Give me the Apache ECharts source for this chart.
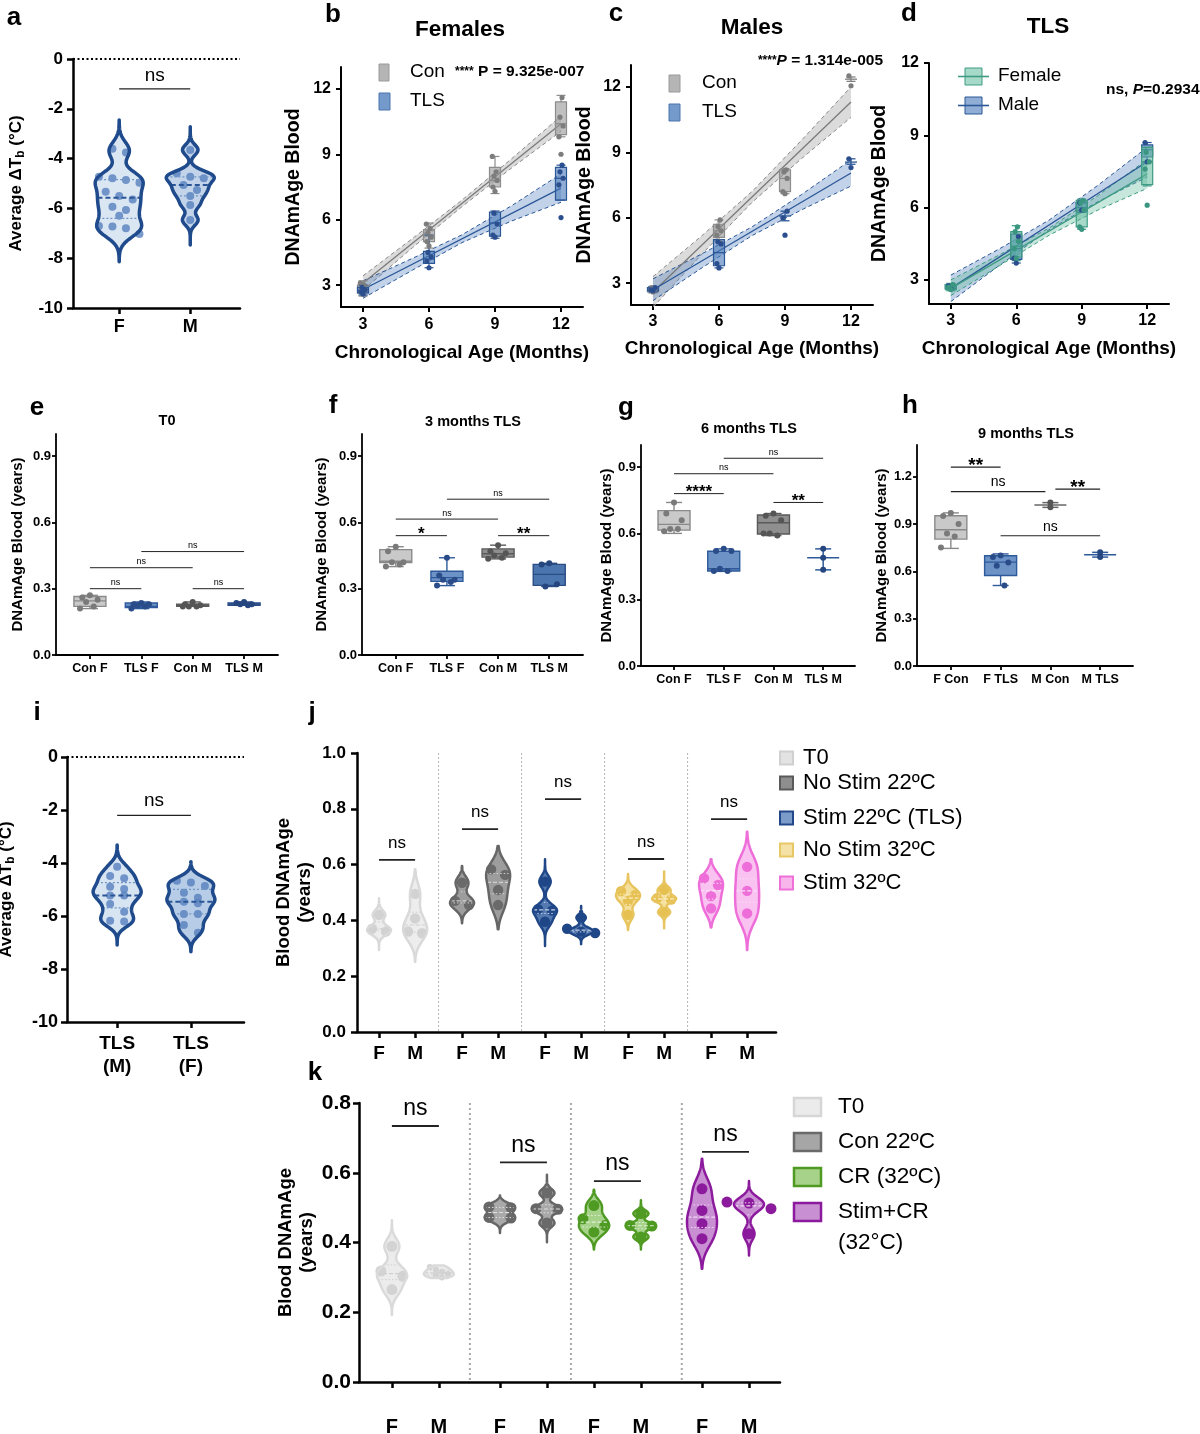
<!DOCTYPE html>
<html>
<head>
<meta charset="utf-8">
<script src="https://cdn.jsdelivr.net/npm/echarts@6/dist/echarts.min.js"></script>
<style>
  html, body { margin: 0; padding: 0; background: #fff; }
  #main { width: 1200px; height: 1434px; }
</style>
</head>
<body>
<div id="main"></div>
<script>
// ---------- data ----------
// a: average body temperature change, per sex
var aCats = ['F', 'M']
var aTicks = [0, -2, -4, -6, -8, -10]
var aF = [-3.6, -3.76, -4.73, -4.79, -4.86, -4.97, -5.33, -5.5, -5.64, -5.93, -6.06, -6.3, -6.71, -6.73, -6.8, -7.03]
var aM = [-3.65, -4.59, -4.73, -4.79, -5.06, -5.26, -5.5, -5.86, -6.47]
var aExtF = [-8.14, -2.45]
var aExtM = [-7.47, -2.72]
var aSig = [[1, 2, -1.2]]

// b-d: DNAmAge vs chronological age
var months = [3, 6, 9, 12]
var ageTicks = [3, 6, 9, 12]
var fitX = [3, 5.25, 7.5, 9.75, 12]
var lineX = [3, 12]

var bConBox = [[2.5, 2.65, 2.8, 3.0, 3.2], [4.7, 5.0, 5.25, 5.55, 5.85], [7.2, 7.5, 7.8, 8.4, 8.9], [9.8, 9.9, 10.4, 11.4, 11.7]]
var bConPts = [[2.6, 2.7, 2.8, 2.9, 3.0, 3.1], [4.8, 5.0, 5.2, 5.4, 5.6, 5.8], [7.3, 7.5, 7.8, 8.0, 8.2, 8.9], [9.0, 9.8, 10.3, 10.7, 11.6]]
var bTlsBox = [[2.55, 2.65, 2.75, 2.9, 3.0], [3.8, 4.0, 4.2, 4.55, 5.3], [5.15, 5.25, 5.85, 6.35, 6.4], [6.9, 6.9, 7.9, 8.4, 8.5]]
var bTlsPts = [[2.6, 2.7, 2.8, 2.9], [3.8, 4.1, 4.3, 4.5], [5.2, 5.3, 5.8, 6.3], [6.1, 7.6, 7.9, 8.2, 8.5]]
var bConLine = [3.1, 10.4]
var bConLo = [2.77, 4.72, 6.60, 8.37, 10.05]
var bConHi = [3.43, 5.14, 6.90, 8.79, 10.75]
var bTlsLine = [2.8, 7.45]
var bTlsLo = [2.4, 3.69, 4.95, 5.94, 6.8]
var bTlsHi = [3.2, 4.23, 5.31, 6.64, 8.1]

var cConBoxX = [3, 6, 9]
var cConBox = [[2.55, 2.6, 2.7, 2.8, 2.85], [4.9, 5.1, 5.4, 5.7, 5.9], [7.1, 7.2, 7.8, 8.2, 8.25]]
var cConBarX = [12]
var cConBar = [[12.25, 12.35, 12.45]]
var cConPts = [[2.6, 2.7, 2.75, 2.8], [4.9, 5.2, 5.4, 5.6, 5.9], [7.1, 7.2, 7.8, 8.1, 8.2], [12.05, 12.5]]
var cTlsBoxX = [3, 6]
var cTlsBox = [[2.6, 2.65, 2.7, 2.8, 2.85], [3.7, 3.8, 4.4, 5.0, 5.0]]
var cTlsBarX = [9, 12]
var cTlsBar = [[5.86, 6.08, 6.3], [8.45, 8.55, 8.7]]
var cTlsPts = [[2.65, 2.7, 2.8], [3.7, 3.9, 4.8, 4.9], [5.2, 6.0, 6.3], [8.3, 8.7]]
var cConLine = [2.6, 11.3]
var cConLo = [1.9, 4.36, 6.7, 8.71, 10.6]
var cConHi = [3.3, 5.2, 7.2, 9.55, 12.0]
var cTlsLine = [2.7, 8.05]
var cTlsLo = [2.2, 3.72, 5.18, 6.36, 7.45]
var cTlsHi = [3.2, 4.36, 5.58, 7.06, 8.65]

var dFemBox = [[2.55, 2.6, 2.7, 2.8, 2.85], [3.8, 3.95, 4.4, 5.0, 5.25], [5.1, 5.2, 5.9, 6.3, 6.35], [6.9, 6.95, 7.9, 8.5, 8.5]]
var dFemPts = [[2.6, 2.7, 2.8], [3.9, 4.3, 4.6, 5.0, 5.2], [5.1, 5.2, 5.9, 6.2, 6.3], [6.1, 7.6, 7.9, 8.3]]
var dMalBox = [[2.6, 2.65, 2.7, 2.8, 2.85], [3.7, 3.85, 4.3, 4.9, 5.0], [5.8, 5.85, 6.0, 6.2, 6.3], [7.9, 8.1, 8.4, 8.6, 8.7]]
var dMalPts = [[2.65, 2.75], [3.7, 3.9, 4.8], [5.9, 6.2], [7.9, 8.7]]
var dFemLine = [2.65, 7.4]
var dFemLo = [2.35, 3.6, 4.85, 5.9, 6.8]
var dFemHi = [3.0, 4.05, 5.15, 6.5, 8.0]
var dMalLine = [2.65, 7.9]
var dMalLo = [2.1, 3.62, 5.08, 6.25, 7.27]
var dMalHi = [3.2, 4.3, 5.48, 6.93, 8.5]

// e-h: DNAmAge per group at each timepoint (box = min, q1, median, q3, max)
var grpCats = ['Con F', 'TLS F', 'Con M', 'TLS M']
var hCats = ['F Con', 'F TLS', 'M Con', 'M TLS']
var grpX = [1, 2, 3, 4]
var yTicks09 = [0, 0.3, 0.6, 0.9]
var yTicks12 = [0, 0.3, 0.6, 0.9, 1.2]

var eBox = [[0.21, 0.22, 0.245, 0.265, 0.27], [0.21, 0.215, 0.22, 0.235, 0.24], [0.22, 0.22, 0.225, 0.23, 0.24], [0.225, 0.225, 0.23, 0.235, 0.24]]
var ePts = [[0.27, 0.26, 0.25, 0.24, 0.22, 0.21], [0.235, 0.23, 0.23, 0.225, 0.22, 0.21], [0.24, 0.23, 0.225, 0.22, 0.22, 0.22], [0.24, 0.235, 0.23, 0.23, 0.225]]
var eSig = [[1, 2, 0.30], [3, 4, 0.30], [1, 3, 0.395], [2, 4, 0.468]]
var eSigText = ['ns', 'ns', 'ns', 'ns']

var fBox = [[0.40, 0.418, 0.424, 0.477, 0.49], [0.314, 0.333, 0.35, 0.379, 0.44], [0.435, 0.443, 0.458, 0.48, 0.497], [0.31, 0.315, 0.365, 0.41, 0.415]]
var fPts = [[0.49, 0.47, 0.42, 0.42, 0.41, 0.40], [0.44, 0.36, 0.34, 0.34, 0.33, 0.314], [0.497, 0.47, 0.46, 0.45, 0.44, 0.435], [0.415, 0.41, 0.32, 0.31]]
var fSig = [[1, 2, 0.54], [3, 4, 0.54], [1, 3, 0.615], [2, 4, 0.705]]
var fSigText = ['*', '**', 'ns', 'ns']

var gBoxX = [1, 2, 3]
var gBox = [[0.60, 0.615, 0.641, 0.703, 0.74], [0.428, 0.43, 0.44, 0.519, 0.53], [0.59, 0.597, 0.648, 0.683, 0.69]]
var gBarX = [4]
var gBar = [[0.435, 0.49, 0.53]]
var gPts = [[0.74, 0.69, 0.66, 0.62, 0.62, 0.61], [0.53, 0.52, 0.52, 0.44, 0.43, 0.43], [0.69, 0.68, 0.66, 0.60, 0.59, 0.60], [0.53, 0.49, 0.435]]
var gSig = [[1, 2, 0.78], [3, 4, 0.74], [1, 3, 0.87], [2, 4, 0.94]]
var gSigText = ['****', '**', 'ns', 'ns']

var hBoxX = [1, 2]
var hBox = [[0.745, 0.804, 0.863, 0.952, 0.97], [0.51, 0.573, 0.658, 0.698, 0.71]]
var hBarX = [3, 4]
var hBar = [[1.005, 1.02, 1.035], [0.69, 0.705, 0.72]]
var hPts = [[0.97, 0.95, 0.90, 0.84, 0.82, 0.75], [0.70, 0.69, 0.655, 0.635, 0.51], [1.035, 1.005], [0.72, 0.69]]
var hSig = [[1, 2, 1.26], [1, 2.9, 1.105], [3.1, 4, 1.12], [2, 4, 0.825]]
var hSigText = ['**', 'ns', '**', 'ns']

// i: average body temperature change, TLS animals
var iCats = ['TLS\n(M)', 'TLS\n(F)']
var iM = [-4.14, -4.49, -4.58, -4.9, -4.98, -5.23, -5.23, -5.55, -5.84, -6.18, -6.21]
var iF = [-4.67, -4.74, -4.87, -5.12, -5.31, -5.46, -5.52, -5.92, -5.92, -6.34, -6.63]
var iExtM = [-7.09, -3.32]
var iExtF = [-7.35, -3.95]
var iSig = [[1, 2, -2.2]]

// j: blood DNAmAge, 5 conditions x sex
var jGroups = ['T0', 'No Stim 22ºC', 'Stim 22ºC (TLS)', 'No Stim 32ºC', 'Stim 32ºC']
var jF = [[0.42, 0.37, 0.36], [0.535, 0.47, 0.455], [0.539, 0.44, 0.435, 0.395], [0.505, 0.49, 0.47, 0.42], [0.551, 0.527, 0.487, 0.443]]
var jM = [[0.495, 0.407, 0.36, 0.354], [0.583, 0.563, 0.509, 0.455], [0.41, 0.37, 0.36, 0.355], [0.51, 0.48, 0.475, 0.43], [0.592, 0.506, 0.425]]
var jExtF = [[0.294, 0.479], [0.39, 0.595], [0.308, 0.619], [0.366, 0.566], [0.375, 0.619]]
var jExtM = [[0.252, 0.583], [0.368, 0.667], [0.315, 0.452], [0.372, 0.575], [0.294, 0.718]]
var jSigY = [0.617, 0.727, 0.835, 0.62, 0.763]
var jTicks = [0, 0.2, 0.4, 0.6, 0.8, 1.0]

// k: blood DNAmAge, 4 conditions x sex
var kGroups = ['T0', 'Con 22ºC', 'CR (32ºC)', 'Stim+CR']
var kF = [[0.389, 0.318, 0.303, 0.265], [0.502, 0.50, 0.472, 0.47], [0.506, 0.468, 0.449, 0.43], [0.554, 0.492, 0.454, 0.411]]
var kM = [[0.33, 0.322, 0.316, 0.31, 0.306, 0.30], [0.542, 0.497, 0.495, 0.456], [0.483, 0.449, 0.447, 0.416], [0.516, 0.513, 0.497, 0.425]]
var kExtF = [[0.192, 0.464], [0.427, 0.535], [0.38, 0.551], [0.325, 0.64]]
var kExtM = [[0.298, 0.334], [0.401, 0.594], [0.38, 0.521], [0.363, 0.576]]
var kSigY = [0.734, 0.63, 0.576, 0.66]
var kTicks = [0, 0.2, 0.4, 0.6, 0.8]

// ---------- layout ----------
var FONT = "'Liberation Sans', Arial, Helvetica, sans-serif"
var grids = [
  { left: 73, top: 59, width: 167, height: 249 },    // a
  { left: 341, top: 67, width: 242, height: 240 },   // b
  { left: 631, top: 65, width: 242, height: 240 },   // c
  { left: 929, top: 63, width: 240, height: 241 },   // d
  { left: 56, top: 434, width: 222, height: 221 },   // e
  { left: 362, top: 434, width: 221, height: 221 },  // f
  { left: 641, top: 445, width: 214, height: 221 },  // g
  { left: 917, top: 445, width: 216, height: 221 },  // h
  { left: 67, top: 757, width: 177, height: 265 },   // i
  { left: 357, top: 753, width: 419, height: 279 },  // j
  { left: 359, top: 1103, width: 421, height: 279 }  // k
]
var jPosF = [1, 3.3, 5.6, 7.9, 10.2]
var jPosM = [2, 4.3, 6.6, 8.9, 11.2]
var jSep = [2.65, 4.95, 7.25, 9.55]
var kPosF = [1, 3.3, 5.3, 7.6]
var kPosM = [2, 4.3, 6.3, 8.6]
var kSep = [2.66, 4.81, 7.17]
var JIT = [0, -0.7, 0.7, -0.35, 0.35, -0.9, 0.9, 0.15]

// ---------- helpers ----------
function quant (s, q) {
  var pos = (s.length - 1) * q
  var lo = Math.floor(pos)
  var hi = Math.ceil(pos)
  return s[lo] + (s[hi] - s[lo]) * (pos - lo)
}
function silverman (p) {
  var n = p.length
  var m = p.reduce(function (a, b) { return a + b }, 0) / n
  var sd = Math.sqrt(p.reduce(function (a, b) { return a + (b - m) * (b - m) }, 0) / (n - 1))
  var s = p.slice().sort(function (a, b) { return a - b })
  var iqr = (quant(s, 0.75) - quant(s, 0.25)) / 1.34
  var a = iqr > 0 ? Math.min(sd, iqr) : sd
  return 0.9 * a * Math.pow(n, -0.2)
}
function ln (x1, y1, x2, y2, st) {
  return { type: 'line', shape: { x1: x1, y1: y1, x2: x2, y2: y2 }, style: Object.assign({ fill: null }, st) }
}
function tstyle (text, size, weight, align, extra) {
  return Object.assign({
    text: text, fontSize: size, fontWeight: weight || 'normal', fontFamily: FONT, fill: '#000',
    align: align || 'center', verticalAlign: 'middle', textAlign: align || 'center', textVerticalAlign: 'middle'
  }, extra || {})
}
function custom (grid, data, render, z) {
  return { type: 'custom', xAxisIndex: grid, yAxisIndex: grid, data: data, renderItem: render, z: z || 2, silent: true, clip: false }
}

function boxRender (st) {
  return function (params, api) {
    var x = api.value(0)
    var p = [1, 2, 3, 4, 5].map(function (i) { return api.coord([x, api.value(i)]) })
    var cx = p[0][0]
    var hw = st.boxW / 2
    var cw = st.capW / 2
    var ls = { stroke: st.stroke, lineWidth: st.lw }
    return {
      type: 'group',
      children: [
        ln(cx, p[0][1], cx, p[1][1], ls),
        ln(cx, p[3][1], cx, p[4][1], ls),
        ln(cx - cw, p[0][1], cx + cw, p[0][1], ls),
        ln(cx - cw, p[4][1], cx + cw, p[4][1], ls),
        { type: 'rect', shape: { x: cx - hw, y: p[3][1], width: 2 * hw, height: p[1][1] - p[3][1] }, style: { fill: st.fill, stroke: st.stroke, lineWidth: st.lw } },
        ln(cx - hw, p[2][1], cx + hw, p[2][1], { stroke: st.median || st.stroke, lineWidth: st.lw })
      ]
    }
  }
}
function barRender (st) {
  return function (params, api) {
    var x = api.value(0)
    var p = [1, 2, 3].map(function (i) { return api.coord([x, api.value(i)]) })
    var cx = p[0][0]
    var ls = { stroke: st.stroke, lineWidth: st.lw }
    return {
      type: 'group',
      children: [
        ln(cx, p[0][1], cx, p[2][1], ls),
        ln(cx - st.capW / 2, p[0][1], cx + st.capW / 2, p[0][1], ls),
        ln(cx - st.capW / 2, p[2][1], cx + st.capW / 2, p[2][1], ls),
        ln(cx - st.meanW / 2, p[1][1], cx + st.meanW / 2, p[1][1], ls)
      ]
    }
  }
}
function dotRender (st) {
  return function (params, api) {
    var c = api.coord([api.value(0), api.value(1)])
    var dx = JIT[api.value(2) % JIT.length] * st.spread
    return { type: 'circle', shape: { cx: c[0] + dx, cy: c[1], r: st.r }, style: { fill: st.fill } }
  }
}
function dotData (xs, pts) {
  var out = []
  xs.forEach(function (x, i) { pts[i].forEach(function (v, k) { out.push([x, v, k]) }) })
  return out
}
function boxData (xs, stats) {
  return xs.map(function (x, i) { return [x].concat(stats[i]) })
}
function bandRender (lo, hi, st) {
  return function (params, api) {
    var up = fitX.map(function (x, i) { return api.coord([x, hi[i]]) })
    var dn = fitX.map(function (x, i) { return api.coord([x, lo[i]]) })
    var es = { stroke: st.edge, lineWidth: 1, lineDash: [4, 3], fill: null }
    return {
      type: 'group',
      children: [
        { type: 'polygon', shape: { points: up.concat(dn.slice().reverse()) }, style: { fill: st.fill } },
        { type: 'polyline', shape: { points: up }, style: es },
        { type: 'polyline', shape: { points: dn }, style: Object.assign({}, es) }
      ]
    }
  }
}
function fitLine (grid, ys, color, z) {
  return {
    type: 'line', xAxisIndex: grid, yAxisIndex: grid, data: lineX.map(function (x, i) { return [x, ys[i]] }),
    symbol: 'none', silent: true, z: z || 3, lineStyle: { color: color, width: 1.3 }
  }
}
function sigRender (texts, st) {
  return function (params, api) {
    var a = api.coord([api.value(0), api.value(2)])
    var b = api.coord([api.value(1), api.value(2)])
    var t = texts[params.dataIndex]
    var star = t.indexOf('*') >= 0
    var size = star ? st.starSize : st.size
    return {
      type: 'group',
      children: [
        ln(a[0], a[1], b[0], a[1], { stroke: '#222', lineWidth: st.lw }),
        { type: 'text', x: (a[0] + b[0]) / 2, y: a[1] - (star ? st.starGap : st.gap), style: tstyle(t, size, star ? 'bold' : 'normal') }
      ]
    }
  }
}
function violinRender (list) {
  return function (params, api) {
    var v = list[params.dataIndex]
    var st = v.st
    var x = api.value(0)
    var cx = api.coord([x, v.ext[0]])[0]
    var yOf = function (val) { return api.coord([x, val])[1] }
    var bw = silverman(v.pts) * st.bwk
    var dens = function (y) {
      var d = 0
      v.pts.forEach(function (p) { var z = (y - p) / bw; d += Math.exp(-0.5 * z * z) })
      return d
    }
    var N = 120
    var prof = []
    var maxD = 0
    for (var i = 0; i <= N; i++) {
      var y = v.ext[0] + (v.ext[1] - v.ext[0]) * i / N
      var d = dens(y)
      prof.push([y, d])
      if (d > maxD) maxD = d
    }
    var right = prof.map(function (q) { return [cx + st.halfW * q[1] / maxD, yOf(q[0])] })
    var left = prof.map(function (q) { return [cx - st.halfW * q[1] / maxD, yOf(q[0])] }).reverse()
    var outline = right.concat(left)
    var children = [{ type: 'polygon', shape: { points: outline }, style: { fill: st.fill } }]
    // dots, stacked side by side where values are close
    var ppu = Math.abs(yOf(1) - yOf(0))
    var desc = v.pts.slice().sort(function (a, b) { return b - a })
    var groups = []
    desc.forEach(function (p) {
      var g = groups[groups.length - 1]
      if (g && (g[0] - p) * ppu < st.thr) g.push(p)
      else groups.push([p])
    })
    var r = v.r || st.r
    var sp = v.spacing || st.spacing
    groups.forEach(function (g) {
      g.forEach(function (p, k) {
        children.push({ type: 'circle', shape: { cx: cx + (k - (g.length - 1) / 2) * sp, cy: yOf(p), r: r }, style: { fill: st.dot } })
      })
    })
    var s = v.pts.slice().sort(function (a, b) { return a - b })
    ;[[0.25, st.qLine], [0.75, st.qLine], [0.5, st.mLine]].forEach(function (q) {
      var val = quant(s, q[0])
      var w = st.halfW * dens(val) / maxD
      children.push(ln(cx - w, yOf(val), cx + w, yOf(val), q[1]))
    })
    children.push({ type: 'polygon', shape: { points: outline }, style: { fill: null, stroke: st.stroke, lineWidth: st.lw, lineJoin: 'round' } })
    return { type: 'group', children: children }
  }
}
function violinSeries (grid, list) {
  return custom(grid, list.map(function (v) { return [v.x, v.ext[0]] }), violinRender(list), 4)
}
function zeroLine (grid) {
  return custom(grid, [[0, 0]], function (params, api) {
    var cs = params.coordSys
    var y = api.coord([0, 0])[1]
    return ln(cs.x, y, cs.x + cs.width, y, { stroke: '#000', lineWidth: 2, lineDash: [2, 2.5] })
  }, 1)
}
function sepLines (grid, xs, st) {
  return custom(grid, xs.map(function (x) { return [x, 0] }), function (params, api) {
    var cs = params.coordSys
    var x = api.coord([api.value(0), 0])[0]
    return ln(x, cs.y, x, cs.y + cs.height, st)
  }, 1)
}
function lookup (vals, labels) {
  return function (v) {
    for (var i = 0; i < vals.length; i++) if (Math.abs(vals[i] - v) < 1e-6) return labels[i]
    return ''
  }
}
function axis (grid, min, max, vals, fmt, o) {
  return {
    type: 'value', gridIndex: grid, min: min, max: max,
    axisLine: { show: true, onZero: false, lineStyle: { color: '#000', width: o.lw || 2 } },
    axisTick: { show: true, customValues: vals, length: o.tick || 5, lineStyle: { color: '#000', width: o.lw || 2 } },
    axisLabel: {
      customValues: vals, formatter: fmt, margin: o.margin || 8, color: '#000',
      fontSize: o.fs, fontWeight: 'bold', fontFamily: FONT, lineHeight: o.lh
    },
    splitLine: { show: false },
    name: o.name, nameLocation: 'middle', nameGap: o.gap,
    nameTextStyle: Object.assign({ fontSize: o.nfs, fontWeight: 'bold', fontFamily: FONT, color: '#000', lineHeight: o.nlh }, o.nts || {})
  }
}
var fmtInt = function (v) { return String(v) }
var fmt1 = function (v) { return v.toFixed(1) }

// ---------- axes ----------
var tempName = {
  name: '{t|Average \u0394T}{s|b}{t| (°C)}',
  nts: {
    rich: {
      t: { fontSize: 17, fontWeight: 'bold', fontFamily: FONT, color: '#000' },
      s: { fontSize: 12, fontWeight: 'bold', fontFamily: FONT, color: '#000', padding: [9, 0, 0, 0] }
    }
  }
}
var xAxes = [
  axis(0, 0.35, 2.7, [1, 2], lookup([1, 2], aCats), { fs: 18, margin: 10, tick: 6, lw: 2.5 }),
  axis(1, 2, 13, ageTicks, fmtInt, { fs: 16, margin: 10, tick: 5, name: 'Chronological Age (Months)', gap: 36, nfs: 19 }),
  axis(2, 2, 13, ageTicks, fmtInt, { fs: 16, margin: 9, tick: 5, name: 'Chronological Age (Months)', gap: 34, nfs: 19 }),
  axis(3, 2, 13, ageTicks, fmtInt, { fs: 16, margin: 9, tick: 5, name: 'Chronological Age (Months)', gap: 35, nfs: 19 }),
  axis(4, 0.34, 4.66, grpX, lookup(grpX, grpCats), { fs: 12.5, margin: 7, tick: 4, lw: 1.8 }),
  axis(5, 0.34, 4.66, grpX, lookup(grpX, grpCats), { fs: 12.5, margin: 7, tick: 4, lw: 1.8 }),
  axis(6, 0.336, 4.64, grpX, lookup(grpX, grpCats), { fs: 12.5, margin: 7, tick: 4, lw: 1.8 }),
  axis(7, 0.32, 4.66, grpX, lookup(grpX, hCats), { fs: 12.5, margin: 7, tick: 4, lw: 1.8 }),
  axis(8, 0.32, 2.72, [1, 2], lookup([1, 2], iCats), { fs: 19, margin: 10, tick: 6, lw: 2.5, lh: 23 }),
  axis(9, 0.39, 12.0, jPosF.concat(jPosM), lookup(jPosF.concat(jPosM), jPosF.map(function () { return 'F' }).concat(jPosM.map(function () { return 'M' }))), { fs: 19, margin: 12, tick: 6, lw: 2.5 }),
  axis(10, 0.3, 9.26, kPosF.concat(kPosM), lookup(kPosF.concat(kPosM), kPosF.map(function () { return 'F' }).concat(kPosM.map(function () { return 'M' }))), { fs: 20, margin: 35, tick: 6, lw: 2.5 })
]
var yAxes = [
  axis(0, -10, 0, aTicks, fmtInt, Object.assign({ fs: 17, margin: 10, tick: 6, lw: 2.5, gap: 46 }, tempName)),
  axis(1, 2, 13, ageTicks, fmtInt, { fs: 16, margin: 10, tick: 5, name: 'DNAmAge Blood', gap: 37, nfs: 19.5 }),
  axis(2, 2, 13, ageTicks, fmtInt, { fs: 16, margin: 10, tick: 5, name: 'DNAmAge Blood', gap: 36, nfs: 19.5 }),
  axis(3, 2, 12, ageTicks, fmtInt, { fs: 16, margin: 10, tick: 5, name: 'DNAmAge Blood', gap: 39, nfs: 19.5 }),
  axis(4, 0, 1.0, yTicks09, fmt1, { fs: 13, margin: 5, tick: 4, lw: 1.8, name: 'DNAmAge Blood (years)', gap: 31, nfs: 15 }),
  axis(5, 0, 1.0, yTicks09, fmt1, { fs: 13, margin: 5, tick: 4, lw: 1.8, name: 'DNAmAge Blood (years)', gap: 33, nfs: 15 }),
  axis(6, 0, 1.0, yTicks09, fmt1, { fs: 13, margin: 5, tick: 4, lw: 1.8, name: 'DNAmAge Blood (years)', gap: 24, nfs: 15 }),
  axis(7, 0, 1.4, yTicks12, fmt1, { fs: 13, margin: 5, tick: 4, lw: 1.8, name: 'DNAmAge Blood (years)', gap: 28, nfs: 15 }),
  axis(8, -10, 0, aTicks, fmtInt, Object.assign({ fs: 18, margin: 9, tick: 6, lw: 2.5, gap: 50 }, tempName)),
  axis(9, 0, 1.0, jTicks, fmt1, { fs: 17, margin: 11, tick: 6, lw: 2.5, name: 'Blood DNAmAge\n(years)', gap: 42, nfs: 18.5, nlh: 21 }),
  axis(10, 0, 0.8, kTicks, fmt1, { fs: 21, margin: 8, tick: 6, lw: 2.5, name: 'Blood DNAmAge\n(years)', gap: 42, nfs: 18.5, nlh: 21 })
]

// ---------- styles ----------
var navy = '#1f4a8c'
var vA = { halfW: 24, bwk: 0.62, lw: 3.5, stroke: navy, dot: 'rgba(86,128,190,0.8)', r: 4, spacing: 13.5, thr: 8,
  mLine: { stroke: '#2a5596', lineWidth: 2, lineDash: [5, 3] }, qLine: { stroke: '#6f95c5', lineWidth: 1.3, lineDash: [2, 2] } }
function vst (base, extra) { return Object.assign({}, base, extra) }
function jst (stroke, fill, dot, q) {
  return { halfW: 12, bwk: 1, lw: 2.5, stroke: stroke, fill: fill, dot: dot, r: 5.2, spacing: 14, thr: 7,
    mLine: { stroke: q, lineWidth: 1.2, lineDash: [4, 2] }, qLine: { stroke: q, lineWidth: 1, lineDash: [1.5, 2] } }
}
var jStyles = [
  jst('#d9d9d9', '#ededed', '#d2d2d2', '#cfcfcf'),
  jst('#666666', '#9d9d9d', '#6a6a6a', '#d0d0d0'),
  jst('#1f4788', '#5479b0', '#1f4788', '#c8d4ea'),
  jst('#e8c45e', '#f5df9d', '#e6c050', '#faf0cc'),
  jst('#ee6ed9', '#f9c2f0', '#ee6ed9', '#fbe0f7')
]
var kStyles = [
  jst('#dadada', '#ececec', '#d3d3d3', '#cfcfcf'),
  jst('#666666', '#a9a9a9', '#6a6a6a', '#e0e0e0'),
  jst('#4f9a22', '#a6d28a', '#4f9a22', '#e2f0d6'),
  jst('#8c1a9c', '#c98fd3', '#8c1a9c', '#f0d8f4')
]
kStyles.forEach(function (s) { s.halfW = 15; s.r = 5.5; s.spacing = 22; s.thr = 8 })

var gray = { fill: 'rgba(150,150,150,0.6)', stroke: '#8c8c8c', boxW: 11, capW: 9, lw: 1.2 }
var blue = { fill: 'rgba(70,120,185,0.6)', stroke: '#2b5797', boxW: 11, capW: 9, lw: 1.2 }
var teal = { fill: 'rgba(95,185,155,0.55)', stroke: '#3f9c83', boxW: 11, capW: 9, lw: 1.2 }
var grayBar = { stroke: '#808080', lw: 1.3, capW: 9, meanW: 12 }
var blueBar = { stroke: '#2b5797', lw: 1.3, capW: 9, meanW: 12 }
var grayBand = { fill: 'rgba(165,165,165,0.4)', edge: '#8a8a8a' }
var blueBand = { fill: 'rgba(80,125,190,0.35)', edge: '#2b5797' }
var tealBand = { fill: 'rgba(95,185,155,0.35)', edge: '#3f9c83' }
var grayDot = { fill: '#7d7d7d', r: 2.6, spread: 3 }
var blueDot = { fill: '#2b4f8e', r: 2.6, spread: 3 }
var tealDot = { fill: '#3a9680', r: 2.6, spread: 3 }

var ehBox = [
  { fill: '#c9c9c9', stroke: '#8a8a8a', boxW: 32, capW: 16, lw: 1.4 },
  { fill: '#6d93c6', stroke: '#2e5a9b', boxW: 32, capW: 16, lw: 1.4 },
  { fill: '#8f8f8f', stroke: '#5a5a5a', boxW: 32, capW: 16, lw: 1.4 },
  { fill: '#4b75ae', stroke: '#2a4d85', boxW: 32, capW: 16, lw: 1.4 }
]
var ehDot = [
  { fill: '#7a7a7a', r: 3, spread: 11 },
  { fill: '#2a4d8a', r: 3, spread: 11 },
  { fill: '#555555', r: 3, spread: 11 },
  { fill: '#25467f', r: 3, spread: 11 }
]
var ehGrayBar = { stroke: '#666666', lw: 1.5, capW: 16, meanW: 32 }
var ehBlueBar = { stroke: '#2e5a9b', lw: 1.5, capW: 16, meanW: 32 }
var sigSmall = { size: 9, starSize: 17, gap: 6, starGap: 1, lw: 1 }
var sigH = { size: 14, starSize: 19, gap: 9, starGap: 1, lw: 1.2 }

// ---------- series ----------
var series = []
function ehPanel (grid, boxX, box, pts, sig, sigText, sigSt) {
  boxX.forEach(function (x, i) {
    series.push(custom(grid, [[x].concat(box[i])], boxRender(ehBox[x - 1]), 3))
  })
  grpX.forEach(function (x, i) {
    series.push(custom(grid, dotData([x], [pts[i]]).map(function (d) { return boxX.indexOf(x) < 0 ? [d[0], d[1], 0] : d }), dotRender(ehDot[i]), 5))
  })
  series.push(custom(grid, sig, sigRender(sigText, sigSt), 6))
}

// a
series.push(zeroLine(0))
series.push(violinSeries(0, [
  { x: 1, pts: aF, ext: aExtF, st: vst(vA, { fill: '#dbe6f3' }) },
  { x: 2, pts: aM, ext: aExtM, st: vst(vA, { fill: '#c3d4ea' }) }
]))
series.push(custom(0, aSig, sigRender(['ns'], { size: 19, gap: 13, lw: 1.3 }), 6))

// b
series.push(custom(1, [[3, 3]], bandRender(bConLo, bConHi, grayBand), 1))
series.push(custom(1, [[3, 3]], bandRender(bTlsLo, bTlsHi, blueBand), 1))
series.push(fitLine(1, bConLine, '#7a7a7a'))
series.push(fitLine(1, bTlsLine, '#2b5797'))
series.push(custom(1, boxData(months, bConBox), boxRender(gray), 4))
series.push(custom(1, boxData(months, bTlsBox), boxRender(blue), 4))
series.push(custom(1, dotData(months, bConPts), dotRender(grayDot), 5))
series.push(custom(1, dotData(months, bTlsPts), dotRender(blueDot), 5))

// c
series.push(custom(2, [[3, 3]], bandRender(cConLo, cConHi, grayBand), 1))
series.push(custom(2, [[3, 3]], bandRender(cTlsLo, cTlsHi, blueBand), 1))
series.push(fitLine(2, cConLine, '#7a7a7a'))
series.push(fitLine(2, cTlsLine, '#2b5797'))
series.push(custom(2, boxData(cConBoxX, cConBox), boxRender(gray), 4))
series.push(custom(2, boxData(cTlsBoxX, cTlsBox), boxRender(blue), 4))
series.push(custom(2, boxData(cConBarX, cConBar), barRender(grayBar), 4))
series.push(custom(2, boxData(cTlsBarX, cTlsBar), barRender(blueBar), 4))
series.push(custom(2, dotData(months, cConPts), dotRender(grayDot), 5))
series.push(custom(2, dotData(months, cTlsPts), dotRender(blueDot), 5))

// d
series.push(custom(3, [[3, 3]], bandRender(dMalLo, dMalHi, blueBand), 1))
series.push(custom(3, [[3, 3]], bandRender(dFemLo, dFemHi, tealBand), 1))
series.push(fitLine(3, dMalLine, '#2b5797'))
series.push(fitLine(3, dFemLine, '#3f9c83'))
series.push(custom(3, boxData(months, dMalBox), boxRender(blue), 4))
series.push(custom(3, boxData(months, dFemBox), boxRender(teal), 4))
series.push(custom(3, dotData(months, dMalPts), dotRender(blueDot), 5))
series.push(custom(3, dotData(months, dFemPts), dotRender(tealDot), 5))

// e-h
ehPanel(4, grpX, eBox, ePts, eSig, eSigText, sigSmall)
ehPanel(5, grpX, fBox, fPts, fSig, fSigText, sigSmall)
ehPanel(6, gBoxX, gBox, gPts, gSig, gSigText, sigSmall)
series.push(custom(6, boxData(gBarX, gBar), barRender(ehBlueBar), 4))
ehPanel(7, hBoxX, hBox, hPts, hSig, hSigText, sigH)
series.push(custom(7, boxData([3], [hBar[0]]), barRender(ehGrayBar), 4))
series.push(custom(7, boxData([4], [hBar[1]]), barRender(ehBlueBar), 4))

// i
series.push(zeroLine(8))
series.push(violinSeries(8, [
  { x: 1, pts: iM, ext: iExtM, st: vst(vA, { fill: '#d7e4f2', spacing: 14 }) },
  { x: 2, pts: iF, ext: iExtF, st: vst(vA, { fill: '#b7cce6', spacing: 14 }) }
]))
series.push(custom(8, iSig, sigRender(['ns'], { size: 19, gap: 15, lw: 1.3 }), 6))

// j
series.push(sepLines(9, jSep, { stroke: '#b5b5b5', lineWidth: 1, lineDash: [2, 2] }))
var jList = []
jGroups.forEach(function (g, i) {
  jList.push({ x: jPosF[i], pts: jF[i], ext: jExtF[i], st: jStyles[i] })
  jList.push({ x: jPosM[i], pts: jM[i], ext: jExtM[i], st: jStyles[i] })
})
series.push(violinSeries(9, jList))
series.push(custom(9, jSigY.map(function (y, i) { return [jPosF[i], jPosM[i], y] }), sigRender(jSigY.map(function () { return 'ns' }), { size: 17, gap: 17, lw: 1.8 }), 6))

// k
series.push(sepLines(10, kSep, { stroke: '#a8a8a8', lineWidth: 2, lineDash: [2, 3] }))
var kList = []
kGroups.forEach(function (g, i) {
  kList.push({ x: kPosF[i], pts: kF[i], ext: kExtF[i], st: kStyles[i] })
  kList.push({ x: kPosM[i], pts: kM[i], ext: kExtM[i], st: kStyles[i] })
})
kList[1].r = 3
kList[1].spacing = 6
series.push(violinSeries(10, kList))
series.push(custom(10, kSigY.map(function (y, i) { return [kPosF[i], kPosM[i], y] }), sigRender(kSigY.map(function () { return 'ns' }), { size: 23, gap: 17, lw: 1.8 }), 6))

// ---------- texts, legends ----------
var graphic = []
function gtext (x, y, text, size, weight, align, extra) {
  graphic.push({ type: 'text', x: x, y: y, z: 100, silent: true, style: tstyle(text, size, weight, align, extra) })
}
function grect (x, y, w, h, fill, stroke, lw) {
  graphic.push({ type: 'rect', shape: { x: x, y: y, width: w, height: h }, z: 100, silent: true, style: { fill: fill, stroke: stroke, lineWidth: lw || 1 } })
}
[['a', 14, 18], ['b', 333, 15], ['c', 616, 14], ['d', 909, 14], ['e', 37, 408], ['f', 333, 406], ['g', 626, 408],
  ['h', 910, 406], ['i', 37, 713], ['j', 312, 713], ['k', 315, 1073]].forEach(function (l) { gtext(l[1], l[2], l[0], 26, 'bold') })
gtext(460, 30, 'Females', 22.5, 'bold')
gtext(752, 28, 'Males', 22.5, 'bold')
gtext(1048, 27, 'TLS', 22.5, 'bold')
gtext(167, 421, 'T0', 14.5, 'bold')
gtext(473, 422, '3 months TLS', 14.5, 'bold')
gtext(749, 429, '6 months TLS', 14.5, 'bold')
gtext(1026, 434, '9 months TLS', 14.5, 'bold')

// b legend
grect(379, 64, 10, 17, 'rgba(150,150,150,0.7)', '#9a9a9a')
grect(379, 93, 11, 17, 'rgba(70,120,185,0.75)', '#4a74ad')
gtext(410, 72, 'Con', 19, 'normal', 'left')
gtext(410, 101, 'TLS', 19, 'normal', 'left')
var pRich = {
  s: { fontSize: 12, fontWeight: 'bold', fontFamily: FONT, fill: '#000', color: '#000' },
  p: { fontSize: 15.5, fontWeight: 'bold', fontFamily: FONT, fill: '#000', color: '#000' },
  i: { fontSize: 15.5, fontWeight: 'bold', fontStyle: 'italic', fontFamily: FONT, fill: '#000', color: '#000' }
}
gtext(455, 72, '{s|****} {p|P = 9.325e-007}', 15.5, 'bold', 'left', { rich: pRich })
// c legend
grect(669, 75, 11, 17, 'rgba(150,150,150,0.7)', '#9a9a9a')
grect(669, 104, 11, 17, 'rgba(70,120,185,0.75)', '#4a74ad')
gtext(702, 83, 'Con', 19, 'normal', 'left')
gtext(702, 112, 'TLS', 19, 'normal', 'left')
gtext(883, 61, '{s|****}{i|P}{p| = 1.314e-005}', 15.5, 'bold', 'right', { rich: pRich })
// d legend
grect(965, 68, 17, 17, 'rgba(95,185,155,0.55)', '#3f9c83')
graphic.push({ type: 'line', shape: { x1: 958, y1: 76.5, x2: 989, y2: 76.5 }, z: 101, style: { stroke: '#3f9c83', lineWidth: 1.6 } })
grect(965, 97, 17, 17, 'rgba(70,120,185,0.6)', '#2b5797')
graphic.push({ type: 'line', shape: { x1: 958, y1: 105.5, x2: 989, y2: 105.5 }, z: 101, style: { stroke: '#2b5797', lineWidth: 1.6 } })
gtext(998, 76, 'Female', 19, 'normal', 'left')
gtext(998, 105, 'Male', 19, 'normal', 'left')
gtext(1106, 90, '{p|ns, }{i|P}{p|=0.2934}', 15.5, 'bold', 'left', { rich: pRich })

// j legend
var jLegY = [758, 783, 818, 850, 883]
var jLegFill = ['#e3e3e3', '#8e8e8e', '#7b9cc8', '#f4e1a5', '#f7b5ec']
var jLegStroke = ['#d0d0d0', '#5a5a5a', '#23488a', '#e8c864', '#ee70d8']
jGroups.forEach(function (g, i) {
  grect(780, jLegY[i] - 6.5, 13, 13, jLegFill[i], jLegStroke[i], 2)
  gtext(803, jLegY[i], g, 22, 'normal', 'left')
})
// k legend
var kLegY = [1107, 1142, 1177, 1212]
var kLegFill = ['#ebebeb', '#a6a6a6', '#a6d28a', '#c98fd3']
var kLegStroke = ['#d6d6d6', '#6a6a6a', '#4f9a22', '#8c1a9c']
kGroups.forEach(function (g, i) {
  grect(794, kLegY[i] - 9, 27, 18, kLegFill[i], kLegStroke[i], 2.5)
  gtext(838, kLegY[i], g, 22.5, 'normal', 'left')
})
gtext(838, 1243, '(32°C)', 22.5, 'normal', 'left')

var chart = echarts.init(document.getElementById('main'))
chart.setOption({
  animation: false,
  backgroundColor: '#ffffff',
  grid: grids.map(function (g) { return Object.assign({ containLabel: false, outerBoundsMode: 'none' }, g) }),
  xAxis: xAxes,
  yAxis: yAxes,
  series: series,
  graphic: graphic
})
window.onresize = chart.resize
</script>
</body>
</html>
